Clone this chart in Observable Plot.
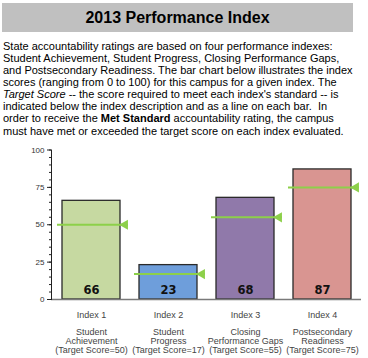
<!DOCTYPE html>
<html><head><meta charset="utf-8">
<script src="https://cdn.jsdelivr.net/npm/d3@7"></script>
<script src="https://cdn.jsdelivr.net/npm/@observablehq/plot@0.6"></script>
<style>
body{margin:0;background:#fff;width:368px;height:358px;overflow:hidden;position:relative}
#title{position:absolute;left:2px;top:3px;width:351px;height:29px;background:#c0c0c0;font:bold 16px "Liberation Sans",Arial,sans-serif;text-align:center;line-height:30px;color:#000}
#para{position:absolute;left:3px;top:39.9px;font-family:"Liberation Sans",Arial,sans-serif;font-size:11px;color:#000}
#para div{height:12.1px;line-height:12.1px;white-space:nowrap;overflow:visible}
#chart{position:absolute;left:0;top:140px}
</style></head>
<body>
<div id="title">2013 Performance Index</div>
<div id="para">
<div>State accountability ratings are based on four performance indexes:</div>
<div>Student Achievement, Student Progress, Closing Performance Gaps,</div>
<div>and Postsecondary Readiness. The bar chart below illustrates the index</div>
<div>scores (ranging from 0 to 100) for this campus for a given index. The</div>
<div><i>Target Score</i> -- the score required to meet each index's standard -- is</div>
<div>indicated below the index description and as a line on each bar.&nbsp; In</div>
<div>order to receive the <b>Met Standard</b> accountability rating, the campus</div>
<div>must have met or exceeded the target score on each index evaluated.</div>
</div>
<div id="chart"></div>
<script>
const indexes = ["Index 1", "Index 2", "Index 3", "Index 4"];
const names = ["Student\nAchievement", "Student\nProgress", "Closing\nPerformance Gaps", "Postsecondary\nReadiness"];
const scores = [66, 23, 68, 87];
const targets = [50, 17, 55, 75];
const barColors = ["#c6d9a1", "#6e9edb", "#9079aa", "#d99591"];
const majorTicks = [0, 25, 50, 75, 100];

const data = indexes.map((idx, i) => ({index: idx, name: names[i], score: scores[i], target: targets[i]}));
const labelOf = Object.fromEntries(data.map(d => [d.index, `${d.index}\n\n${d.name}\n(Target Score=${d.target})`]));
const green = "#8dd04a";

const chart = Plot.plot({
  width: 368,
  height: 218,
  marginLeft: 51,
  marginRight: 7,
  marginTop: 9.5,
  marginBottom: 59,
  style: {fontFamily: "'Liberation Sans', Arial, sans-serif", background: "transparent"},
  x: {domain: indexes, paddingInner: 0.25, paddingOuter: 0.125, label: null},
  y: {domain: [0, 100], label: null},
  color: {domain: indexes, range: barColors},
  marks: [
    Plot.barY(data, {x: "index", y: "score", fill: "index", stroke: "#2a2a2a", strokeWidth: 1.3}),
    Plot.ruleY([0], {stroke: "#7a7a7a", strokeWidth: 1.5}),
    Plot.frame({anchor: "left", stroke: "#222"}),
    Plot.axisY({ticks: d3.range(0, 101, 5), tickSize: 2, tickFormat: () => "", stroke: "#222"}),
    Plot.axisY({ticks: majorTicks, tickSize: 4, tickPadding: 3, fontSize: 8, color: "#333", stroke: "#222"}),
    Plot.axisX({tickSize: 0, tickPadding: 12, fontSize: 9, lineHeight: 0.97, color: "#444", tickFormat: d => labelOf[d]}),
    Plot.tickY(data, {x: "index", y: "target", stroke: green, strokeWidth: 2, insetLeft: -5, insetRight: -8}),
    Plot.dot(data, {x: "index", y: "target", symbol: "triangle", rotate: -90, r: 3.8, fill: green, stroke: "none", dx: 33.5}),
    Plot.text(data, {x: "index", y: 0, text: d => String(d.score), dy: -9.5, fontSize: 11.5, fontWeight: "bold", fill: "#111", fontFamily: "'DejaVu Sans', Verdana, sans-serif"})
  ]
});
document.getElementById("chart").appendChild(chart);
</script>
</body></html>
